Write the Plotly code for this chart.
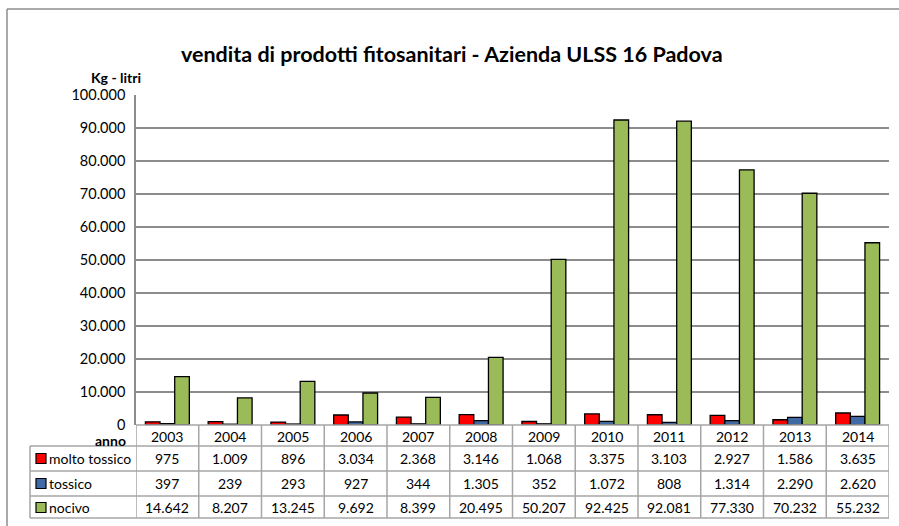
import plotly.graph_objects as go

years = ["2003", "2004", "2005", "2006", "2007", "2008", "2009", "2010", "2011", "2012", "2013", "2014"]
molto_tossico = [975, 1009, 896, 3034, 2368, 3146, 1068, 3375, 3103, 2927, 1586, 3635]
tossico = [397, 239, 293, 927, 344, 1305, 352, 1072, 808, 1314, 2290, 2620]
nocivo = [14642, 8207, 13245, 9692, 8399, 20495, 50207, 92425, 92081, 77330, 70232, 55232]
series_names = ["molto tossico", "tossico", "nocivo"]
series_colors = ["#FF0000", "#3F6AA5", "#9BBB59"]
series_values = [molto_tossico, tossico, nocivo]

W, H = 899, 526
L, R, T, B = 136, 889, 95, 425  # plot area in pixels
FONT = "Lato"


def px(x):
    return (x - L) / (R - L)


def py(y):
    return (B - y) / (B - T)


def fmt(v):
    return f"{v:,}".replace(",", ".")


fig = go.Figure()
for name, col, vals in zip(series_names, series_colors, series_values):
    fig.add_trace(go.Bar(x=years, y=vals, name=name, marker=dict(color=col, line=dict(color="black", width=1.3)),
                         showlegend=False))

shapes = []
annotations = []
grid_col = "#a6a6a6"

# outer border (left and top edges visible)
shapes.append(dict(type="line", xref="paper", yref="paper", x0=px(7), x1=px(7), y0=py(540), y1=py(9),
                   line=dict(color="#8c8c8c", width=1.5)))
shapes.append(dict(type="line", xref="paper", yref="paper", x0=px(7), x1=px(910), y0=py(9), y1=py(9),
                   line=dict(color="#8c8c8c", width=1.5)))

# table horizontal lines
row_lines = [446, 471, 496, 518]
for yy in row_lines:
    shapes.append(dict(type="line", xref="paper", yref="paper", x0=px(30), x1=px(R), y0=py(yy), y1=py(yy),
                       line=dict(color=grid_col, width=1.5)))
shapes.append(dict(type="line", xref="paper", yref="paper", x0=px(L), x1=px(R), y0=py(B), y1=py(B),
                   line=dict(color=grid_col, width=1.5)))
# table vertical lines
shapes.append(dict(type="line", xref="paper", yref="paper", x0=px(30), x1=px(30), y0=py(446), y1=py(518),
                   line=dict(color=grid_col, width=1.5)))
for i in range(len(years) + 1):
    shapes.append(dict(type="line", xref="x", yref="paper", x0=i - 0.5, x1=i - 0.5, y0=py(518), y1=py(B),
                       line=dict(color=grid_col, width=1.5)))

# year row
for i, yr in enumerate(years):
    annotations.append(dict(x=i, y=py(436), xref="x", yref="paper", text=yr, showarrow=False,
                            font=dict(family=FONT, size=14, color="black"), xanchor="center", yanchor="middle"))

row_centers = [458.5, 483.5, 507.5]
for r, (name, col, vals) in enumerate(zip(series_names, series_colors, series_values)):
    yc = row_centers[r]
    for i, v in enumerate(vals):
        annotations.append(dict(x=i, y=py(yc), xref="x", yref="paper", text=fmt(v), showarrow=False,
                                font=dict(family=FONT, size=14, color="black"), xanchor="center", yanchor="middle"))
    shapes.append(dict(type="rect", xref="paper", yref="paper", x0=px(36), x1=px(46), y0=py(yc + 5), y1=py(yc - 5),
                       fillcolor=col, line=dict(color="black", width=1.2)))
    annotations.append(dict(x=px(47), y=py(yc), xref="paper", yref="paper", text=name, showarrow=False,
                            font=dict(family=FONT, size=14, color="black"), xanchor="left", yanchor="middle"))

annotations.append(dict(x=px(128), y=py(440), xref="paper", yref="paper", text="<b>anno</b>", showarrow=False,
                        font=dict(family=FONT, size=14, color="black"), xanchor="right", yanchor="middle"))
annotations.append(dict(x=px(116), y=py(77), xref="paper", yref="paper", text="<b>Kg - litri</b>", showarrow=False,
                        font=dict(family=FONT, size=14, color="black"), xanchor="center", yanchor="middle"))
annotations.append(dict(x=px(452), y=py(54), xref="paper", yref="paper",
                        text="<b>vendita di prodotti fitosanitari - Azienda ULSS 16 Padova</b>", showarrow=False,
                        font=dict(family=FONT, size=21.5, color="black"), xanchor="center", yanchor="middle"))

fig.update_layout(
    width=W, height=H,
    margin=dict(l=L, r=W - R, t=T, b=H - B, pad=0),
    paper_bgcolor="white", plot_bgcolor="white",
    barmode="group", bargap=0.3, bargroupgap=0,
    separators=",.",
    font=dict(family=FONT, size=14, color="black"),
    xaxis=dict(type="category", showticklabels=False, showgrid=False, zeroline=False, showline=False,
               ticks="", range=[-0.5, len(years) - 0.5]),
    yaxis=dict(range=[0, 100000], dtick=10000, tickformat=",d", showgrid=True, gridcolor="#8c8c8c", gridwidth=1.5,
               zeroline=False, showline=True, linecolor="#8c8c8c", linewidth=1.5, ticks="",
               tickfont=dict(family=FONT, size=14.5, color="black"), ticklabelstandoff=6),
    shapes=shapes, annotations=annotations,
)

fig.write_html("out.html", config={"displayModeBar": False},
               post_script="document.body.style.margin='0';document.body.style.overflow='hidden';")
